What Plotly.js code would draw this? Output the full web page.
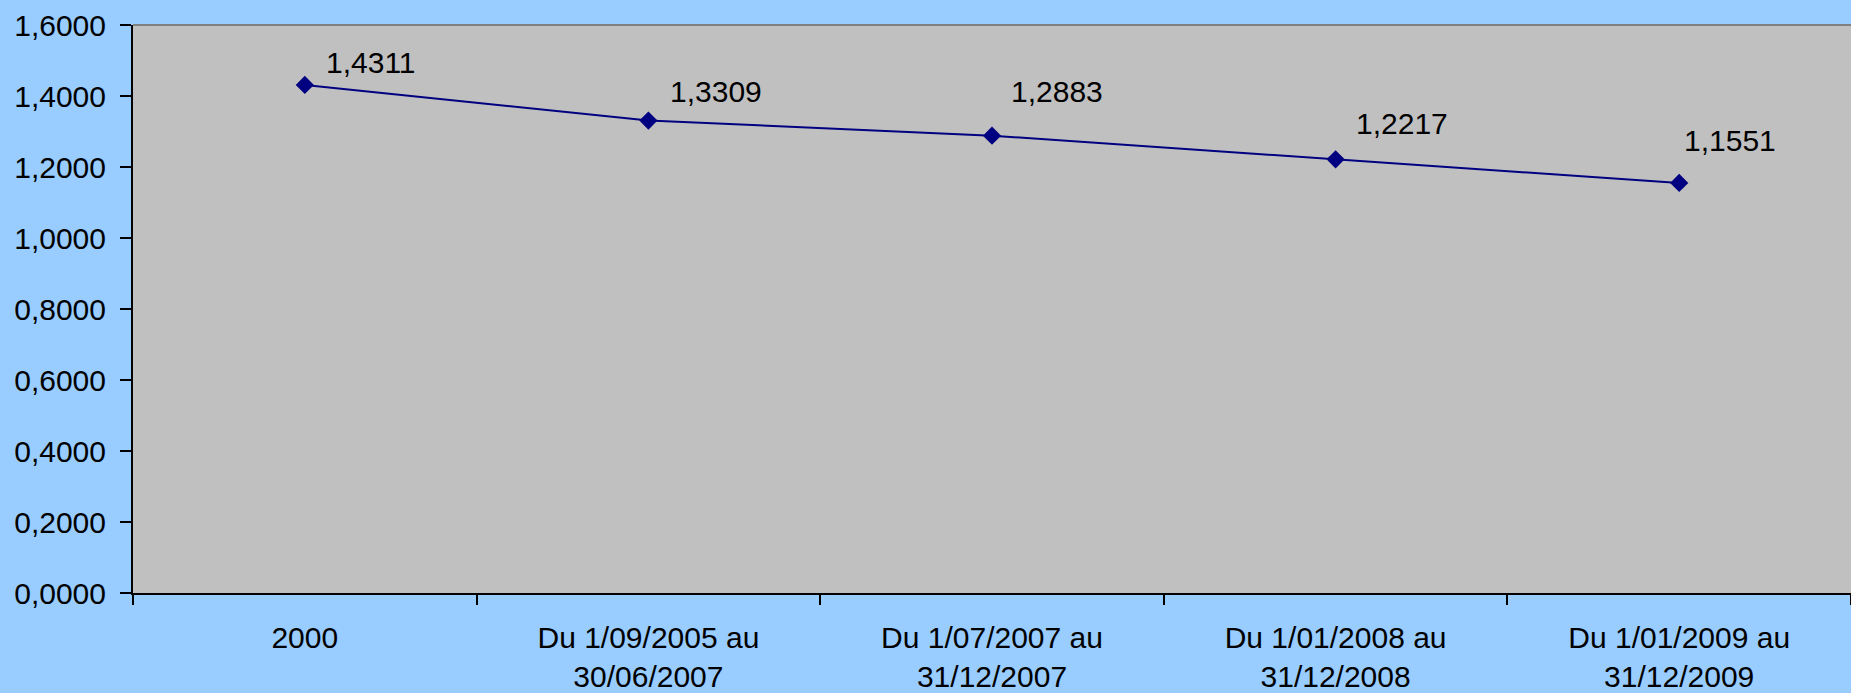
<!DOCTYPE html>
<html>
<head>
<meta charset="utf-8">
<script src="https://cdn.plot.ly/plotly-3.0.1.min.js"></script>
<style>
  html, body { margin: 0; padding: 0; background: #99CCFF; }
  #chart { width: 1851px; height: 693px; }
</style>
</head>
<body>
<div id="chart"></div>
<script>
// Data
const categories = [
  "2000",
  "Du 1/09/2005 au<br>30/06/2007",
  "Du 1/07/2007 au<br>31/12/2007",
  "Du 1/01/2008 au<br>31/12/2008",
  "Du 1/01/2009 au<br>31/12/2009"
];
const values = [1.4311, 1.3309, 1.2883, 1.2217, 1.1551];
const yTickValues = [0, 0.2, 0.4, 0.6, 0.8, 1.0, 1.2, 1.4, 1.6];

// Label placement (pixel offsets from each marker), style only
const labelDx = [66, 68, 65, 66, 51];
const labelDy = [22, 29, 44, 36, 42];

const FONT = '"Liberation Sans", Arial, sans-serif';
const FS = 30;
const fmt = v => v.toFixed(4).replace('.', ',');

const trace = {
  type: 'scatter',
  mode: 'lines+markers',
  x: categories,
  y: values,
  line: { color: '#000080', width: 2 },
  marker: { symbol: 'diamond', size: 14, color: '#000080' },
  hoverinfo: 'skip'
};

const annotations = values.map((v, i) => ({
  x: i,
  y: v,
  xref: 'x', yref: 'y',
  text: fmt(v),
  showarrow: false,
  xanchor: 'center',
  yanchor: 'middle',
  xshift: labelDx[i],
  yshift: labelDy[i],
  font: { family: FONT, size: FS, color: '#000000' }
}));

const layout = {
  width: 1851,
  height: 693,
  margin: { l: 133, r: 0, t: 25, b: 100, pad: 0 },
  paper_bgcolor: '#99CCFF',
  plot_bgcolor: '#C0C0C0',
  separators: ', ',
  showlegend: false,
  font: { family: FONT, size: FS, color: '#000000' },
  xaxis: {
    type: 'category',
    range: [-0.5, 4.5],
    tickson: 'boundaries',
    ticks: 'outside',
    ticklen: 10,
    tickwidth: 2,
    tickcolor: '#000000',
    ticklabelstandoff: 17,
    showline: true,
    linecolor: '#000000',
    linewidth: 2,
    showgrid: false,
    zeroline: false,
    tickfont: { family: FONT, size: FS, color: '#000000' },
    fixedrange: true
  },
  yaxis: {
    range: [0, 1.6],
    tickvals: yTickValues,
    tickformat: '.4f',
    ticks: 'outside',
    ticklen: 11,
    tickwidth: 2,
    tickcolor: '#000000',
    ticklabelstandoff: 8,
    showline: true,
    linecolor: '#000000',
    linewidth: 2,
    showgrid: false,
    zeroline: false,
    tickfont: { family: FONT, size: FS, color: '#000000' },
    fixedrange: true
  },
  shapes: [{
    type: 'line',
    xref: 'paper', yref: 'paper',
    x0: 0, x1: 1, y0: 1, y1: 1,
    line: { color: '#808080', width: 2 },
    layer: 'below'
  }],
  annotations: annotations
};

Plotly.newPlot('chart', [trace], layout, { staticPlot: true, displayModeBar: false });
</script>
</body>
</html>
